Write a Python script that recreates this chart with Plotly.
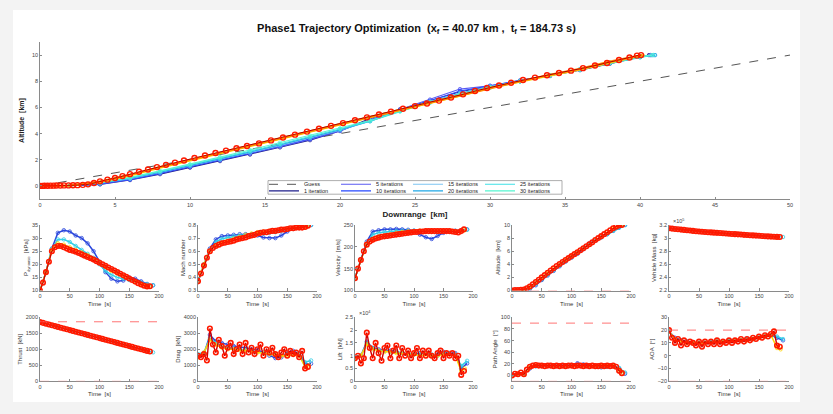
import plotly.graph_objects as go

W, H = 833, 414

# ---------------- Main trajectory data (downrange km, altitude km) ----------------
guess_x = [0, 50]
guess_y = [0, 10]

dr_grid = [0, 2, 4, 6, 8, 10, 12, 14, 16, 18, 20, 22, 24, 26, 28, 30, 32, 34, 36, 38, 40]

iter_labels = ["1 iteration", "5 iterations", "10 iterations", "15 iterations",
               "20 iterations", "25 iterations", "30 iterations"]
iter_colors = ["#1c1c8a", "#5a5af2", "#2547ff", "#7cc4f2", "#1fa7e6", "#3ee0e6", "#55f5cf"]
iter_end_x = [40.6, 40.7, 40.8, 41.0, 41.0, 40.9, 40.8]

alt_it1 = [0, 0.02, 0.12, 0.45, 0.90, 1.40, 1.90, 2.40, 2.95, 3.50, 4.20, 5.15, 5.85, 6.50, 7.20, 7.60, 8.00, 8.40, 8.85, 9.35, 9.85, 10.0]
alt_it5 = [0, 0.02, 0.14, 0.48, 0.95, 1.45, 1.95, 2.45, 3.00, 3.55, 4.20, 5.05, 5.85, 6.60, 7.40, 7.65, 8.05, 8.45, 8.90, 9.40, 9.90, 10.0]
alt_it10 = [0, 0.02, 0.16, 0.50, 0.98, 1.48, 1.98, 2.50, 3.05, 3.60, 4.25, 5.00, 5.80, 6.50, 7.25, 7.65, 8.05, 8.45, 8.90, 9.40, 9.88, 10.0]
alt_it15 = [0, 0.03, 0.20, 0.55, 1.02, 1.52, 2.02, 2.55, 3.10, 3.65, 4.25, 4.95, 5.75, 6.45, 7.10, 7.60, 8.00, 8.45, 8.90, 9.40, 9.85, 10.0]
alt_it20 = [0, 0.03, 0.20, 0.58, 1.05, 1.55, 2.05, 2.60, 3.15, 3.70, 4.30, 4.95, 5.75, 6.40, 7.05, 7.55, 8.00, 8.45, 8.90, 9.40, 9.85, 10.0]
alt_it25 = [0, 0.03, 0.22, 0.60, 1.10, 1.60, 2.10, 2.65, 3.20, 3.75, 4.35, 4.95, 5.70, 6.40, 7.00, 7.55, 8.00, 8.45, 8.90, 9.40, 9.85, 10.0]
alt_it30 = [0, 0.03, 0.24, 0.65, 1.15, 1.65, 2.20, 2.75, 3.30, 3.85, 4.40, 5.00, 5.70, 6.35, 7.00, 7.50, 8.00, 8.45, 8.90, 9.42, 9.88, 10.0]
iter_alts = [alt_it1, alt_it5, alt_it10, alt_it15, alt_it20, alt_it25, alt_it30]

late_colors = ["#ffd400", "#ff8a00"]
late_end_x = [40.3, 40.15]
alt_yellow = [0, 0.03, 0.30, 0.80, 1.40, 1.95, 2.50, 3.00, 3.55, 4.10, 4.65, 5.20, 5.75, 6.30, 6.90, 7.50, 8.00, 8.45, 8.90, 9.45, 9.95, 10.0]
alt_orange = [0, 0.03, 0.33, 0.85, 1.45, 2.00, 2.55, 3.05, 3.60, 4.15, 4.70, 5.25, 5.80, 6.35, 6.95, 7.50, 8.00, 8.50, 8.95, 9.50, 9.97, 10.0]
late_alts = [alt_yellow, alt_orange]

final_x = [0, 0.15, 0.3, 0.5, 0.7, 0.9, 1.1, 1.35, 1.6, 1.9, 2.2, 2.5, 2.85, 3.2, 3.6, 4.0, 4.5, 5.0,
           5.5, 6.0, 6.6, 7.2, 7.8, 8.4, 9.0, 9.6, 10.3, 11.0, 11.7, 12.4, 13.1, 13.8, 14.6, 15.4,
           16.2, 17.0, 17.8, 18.6, 19.4, 20.2, 21.0, 21.8, 22.6, 23.4, 24.2, 25.0, 25.8, 26.6, 27.4,
           28.2, 29.0, 29.8, 30.6, 31.4, 32.2, 33.0, 33.8, 34.6, 35.4, 36.2, 37.0, 37.8, 38.6, 39.3,
           39.8, 40.07]
final_y = [0, 0.0, 0.01, 0.01, 0.02, 0.02, 0.03, 0.03, 0.04, 0.04, 0.05, 0.06, 0.08, 0.12, 0.22, 0.35,
           0.48, 0.60, 0.75, 0.90, 1.08, 1.26, 1.44, 1.61, 1.78, 1.94, 2.13, 2.32, 2.52, 2.70, 2.88,
           3.05, 3.25, 3.48, 3.70, 3.92, 4.15, 4.37, 4.59, 4.80, 5.02, 5.24, 5.46, 5.68, 5.90, 6.10,
           6.30, 6.52, 6.76, 7.00, 7.25, 7.48, 7.68, 7.88, 8.10, 8.28, 8.46, 8.63, 8.81, 9.00, 9.20,
           9.40, 9.62, 9.82, 9.96, 10.0]

# ---------------- Time histories ----------------
t_iter = [0, 10, 20, 30, 40, 50, 60, 70, 80, 90, 100, 110, 120, 130, 140, 150, 160, 170, 180, 190]
t_yel = [0, 10, 20, 30, 40, 50, 60, 70, 80, 90, 100, 110, 120, 130, 140, 150, 160, 170, 180, 186]
t_fin = [0, 5, 10, 15, 20, 25, 30, 35, 40, 45, 50, 55, 60, 65, 70, 75, 80, 85, 90, 95, 100, 105, 110,
         115, 120, 125, 130, 135, 140, 145, 150, 155, 160, 165, 170, 175, 180, 184.73]

q_blue = [10, 17, 26, 32, 33, 32.5, 31, 30, 28, 25, 21, 17, 14.5, 13.5, 13.8, 15, 14.5, 13.5, 12.5, 12]
q_cyan = [10, 17, 26, 29.5, 29.5, 28.5, 27, 25.5, 24, 22.5, 20, 17.5, 16, 15, 14.5, 14, 13.5, 13, 12.3, 12]
q_yel = [10, 17, 25.5, 28, 27.5, 26.5, 25.5, 24.5, 23.5, 22, 20.5, 19, 17.5, 16.5, 15.5, 14.5, 13.5, 12.5, 11.8, 11.6]
q_fin = [10, 13, 17, 21, 25, 26.5, 27, 27, 26.5, 26, 25.5, 25.2, 24.8, 24.3, 23.8, 23.3, 22.8, 22.3, 21.8,
         21.2, 20.6, 20, 19.4, 18.8, 18.2, 17.6, 17, 16.4, 15.8, 15.2, 14.6, 14, 13.4, 12.8, 12.3, 11.8, 11.5, 11.6]

mach_blue = [0.37, 0.5, 0.62, 0.69, 0.715, 0.72, 0.725, 0.73, 0.73, 0.725, 0.72, 0.705, 0.70, 0.70, 0.72, 0.75, 0.77, 0.78, 0.79, 0.80]
mach_cyan = [0.37, 0.5, 0.61, 0.67, 0.695, 0.705, 0.715, 0.72, 0.725, 0.73, 0.735, 0.735, 0.74, 0.745, 0.755, 0.765, 0.775, 0.78, 0.79, 0.80]
mach_yel = [0.37, 0.5, 0.605, 0.645, 0.665, 0.68, 0.695, 0.71, 0.725, 0.735, 0.745, 0.75, 0.755, 0.76, 0.765, 0.77, 0.775, 0.78, 0.785, 0.795]
mach_fin = [0.37, 0.43, 0.49, 0.55, 0.60, 0.625, 0.64, 0.65, 0.66, 0.665, 0.67, 0.675, 0.68, 0.69, 0.695,
            0.70, 0.705, 0.715, 0.72, 0.725, 0.735, 0.74, 0.745, 0.745, 0.75, 0.755, 0.755, 0.76, 0.765,
            0.765, 0.77, 0.775, 0.775, 0.78, 0.78, 0.78, 0.785, 0.795]

vel_blue = [128, 172, 212, 235, 238, 240, 240, 241, 240, 239, 237, 228, 222, 218, 225, 232, 235, 237, 238, 240]
vel_cyan = [128, 171, 208, 228, 232, 234, 235, 236, 237, 237, 237, 236, 236, 235, 234, 235, 236, 236, 237, 239]
vel_yel = [128, 170, 205, 218, 223, 226, 229, 232, 234, 235, 236, 237, 237, 237, 237, 237, 237, 236, 236, 238]
vel_fin = [128, 150, 170, 190, 205, 212, 216, 219, 221, 223, 224, 225, 226, 227, 228, 229, 230, 231, 232,
           233, 234, 234, 235, 235, 236, 236, 236, 236, 236, 236, 236, 236, 236, 235, 234, 233, 236, 240]

alt_blue = [0, 0.05, 0.1, 0.2, 0.8, 1.6, 2.3, 3.0, 3.7, 4.4, 5.0, 5.6, 6.3, 7.2, 7.6, 8.1, 8.6, 9.1, 9.6, 10.0]
alt_cyan = [0, 0.05, 0.1, 0.3, 1.0, 1.7, 2.4, 3.1, 3.8, 4.5, 5.1, 5.8, 6.5, 7.1, 7.6, 8.1, 8.6, 9.1, 9.6, 10.0]
alt_yel = [0, 0.05, 0.12, 0.5, 1.3, 2.0, 2.7, 3.4, 4.1, 4.7, 5.3, 5.9, 6.5, 7.1, 7.7, 8.3, 8.9, 9.4, 9.9, 10.0]
alt_fin = [0, 0.05, 0.08, 0.1, 0.15, 0.35, 0.6, 0.95, 1.3, 1.65, 2.0, 2.35, 2.7, 3.05, 3.4, 3.75, 4.05,
           4.35, 4.65, 4.95, 5.25, 5.55, 5.85, 6.15, 6.45, 6.75, 7.05, 7.35, 7.7, 8.0, 8.3, 8.6, 8.9,
           9.2, 9.5, 9.75, 9.95, 10.0]

mass_blue = [3.15, 3.14, 3.13, 3.12, 3.11, 3.10, 3.093, 3.086, 3.079, 3.072, 3.066, 3.06, 3.054, 3.048, 3.042, 3.037, 3.032, 3.027, 3.022, 3.017]
mass_fin = [3.15, 3.145, 3.14, 3.135, 3.13, 3.125, 3.12, 3.115, 3.11, 3.105, 3.10, 3.097, 3.094, 3.09,
            3.087, 3.083, 3.08, 3.077, 3.073, 3.07, 3.067, 3.063, 3.06, 3.057, 3.054, 3.05, 3.047,
            3.044, 3.041, 3.038, 3.035, 3.032, 3.029, 3.026, 3.023, 3.02, 3.018, 3.016]

thr_blue = [1850, 1800, 1750, 1700, 1650, 1600, 1550, 1500, 1450, 1400, 1350, 1300, 1250, 1200, 1150, 1100, 1050, 1000, 950, 905]
thr_fin = [1850, 1825, 1800, 1775, 1750, 1725, 1700, 1675, 1650, 1625, 1600, 1575, 1550, 1525, 1500, 1475,
           1450, 1425, 1400, 1375, 1350, 1325, 1300, 1275, 1250, 1225, 1200, 1175, 1150, 1125, 1100,
           1075, 1050, 1025, 1000, 975, 950, 930]

drag_blue = [1600, 1700, 2900, 2500, 2400, 2300, 2200, 2150, 2100, 2000, 1950, 1800, 1600, 1450, 1500, 1800, 1900, 1700, 1100, 1100]
drag_cyan = [1700, 1800, 2700, 2400, 2200, 2100, 2050, 2000, 1950, 1900, 1850, 1750, 1700, 1650, 1600, 1700, 1800, 1750, 1200, 1300]
drag_yel = [1500, 1800, 2600, 2300, 2100, 2000, 2000, 1950, 1900, 1850, 1800, 1750, 1700, 1650, 1600, 1600, 1650, 1600, 900, 1000]
drag_fin = [1600, 1500, 1700, 1300, 3300, 2300, 1800, 2600, 2200, 1600, 2100, 2400, 1700, 2000, 2300, 1700,
            2400, 1800, 2100, 1700, 2000, 2300, 1600, 2000, 1800, 2100, 1700, 1500, 1800, 2000, 1600,
            1900, 1700, 1800, 1500, 1900, 800, 900]

lift_blue = [0.9, 1.0, 1.55, 1.3, 1.25, 1.2, 1.2, 1.15, 1.1, 1.05, 1.05, 1.1, 1.1, 1.0, 1.05, 1.15, 1.1, 1.1, 0.5, 0.7]
lift_cyan = [0.9, 1.0, 1.5, 1.3, 1.2, 1.2, 1.15, 1.15, 1.1, 1.1, 1.05, 1.05, 1.1, 1.05, 1.0, 1.1, 1.1, 1.05, 0.6, 0.8]
lift_yel = [0.9, 1.0, 1.45, 1.25, 1.2, 1.15, 1.15, 1.1, 1.1, 1.05, 1.05, 1.0, 1.05, 1.0, 1.0, 1.05, 1.05, 1.0, 0.4, 0.5]
lift_fin = [0.9, 1.0, 0.7, 0.9, 1.9, 1.3, 0.9, 1.5, 1.1, 0.8, 1.3, 1.4, 0.9, 1.2, 1.4, 0.9, 1.3, 1.0, 1.2,
            0.9, 1.1, 1.3, 0.9, 1.2, 1.0, 1.2, 1.0, 0.9, 1.1, 1.2, 0.9, 1.1, 1.0, 1.1, 0.9, 1.0, 0.25, 0.4]

gam_blue = [0, 2, 3, 12, 16, 17, 17, 17, 17, 17, 18, 21, 19, 17, 15, 14, 15, 16, 12, 3]
gam_cyan = [0, 2, 3, 13, 16, 16.5, 17, 17, 17, 17, 17, 18, 17, 16, 15, 15, 15.5, 16, 13, 5]
gam_yel = [0, 2, 3, 14, 17, 17, 17, 17, 17, 17, 17, 17, 17, 16, 16, 16, 16, 16, 10, 5]
gam_fin = [0, 3, 2, 5, 2, 10, 15, 17, 18, 17, 17, 16, 17, 17, 16, 17, 16, 17, 16, 17, 17, 16, 17, 17, 16,
           17, 16, 17, 16, 16, 17, 16, 17, 16, 17, 15, 8, 4]

aoa_blue = [19, 14, 12, 11, 10, 10, 10, 11, 11, 11, 12, 12, 12, 13, 13, 14, 15, 16, 14, 12]
aoa_cyan = [19, 13, 12, 11, 10, 10, 10, 11, 11, 11, 12, 12, 12, 13, 13, 14, 15, 16, 15, 13]
aoa_yel = [19, 13, 11, 10, 10, 10, 10, 10, 11, 11, 11, 12, 12, 12, 13, 14, 15, 16, 6, 5]
aoa_fin = [20, 14, 10, 13, 8, 12, 9, 11, 10, 8, 11, 7, 11, 9, 11, 9, 12, 9, 11, 10, 12, 10, 12, 11, 13,
           11, 13, 12, 14, 13, 15, 14, 16, 15, 17, 19, 8, 7]

thrust_max = 1860
thrust_min = 0
alt_min = 0
gamma_max = 90
gamma_min = -10
aoa_max = 20
aoa_min = -20

# ---------------- Figure ----------------
fig = go.Figure()
FONT = "Liberation Sans"
C_BLUE, C_CYAN, C_YEL, C_RED = "#2a46dc", "#34cfe6", "#ffd400", "#ff1a00"

# main plot
fig.add_trace(go.Scatter(x=guess_x, y=guess_y, mode="lines", name="Guess",
                         line=dict(color="#555555", width=1, dash="dash"),
                         legend="legend", xaxis="x", yaxis="y"))
legend_of = ["legend2", "legend", "legend2", "legend", "legend2", "legend", "legend2"]
for lab, col, ex, ys, lg in zip(iter_labels, iter_colors, iter_end_x, iter_alts, legend_of):
    xs = dr_grid + [ex]
    fig.add_trace(go.Scatter(x=xs, y=ys, mode="lines", name=lab, legend=lg,
                             line=dict(color=col, width=1.1), xaxis="x", yaxis="y"))
    fig.add_trace(go.Scatter(x=xs, y=ys, mode="markers", showlegend=False,
                             marker=dict(symbol="circle-open", size=3.5, color=col, line=dict(width=0.8)),
                             xaxis="x", yaxis="y"))
for col, ex, ys in zip(late_colors, late_end_x, late_alts):
    fig.add_trace(go.Scatter(x=dr_grid + [ex], y=ys, mode="lines", showlegend=False,
                             line=dict(color=col, width=2.2), xaxis="x", yaxis="y"))
fig.add_trace(go.Scatter(x=final_x, y=final_y, mode="lines+markers", showlegend=False,
                         line=dict(color="#b00000", width=1),
                         marker=dict(symbol="circle-open", size=5, color=C_RED, line=dict(width=1.4)),
                         xaxis="x", yaxis="y"))

# subplots
panels = [
    (2, [(t_iter, q_blue, C_BLUE), (t_iter, q_cyan, C_CYAN), (t_yel, q_yel, C_YEL)], q_fin,
     "P<sub>dynamic</sub>  [kPa]", [10, 35], 5),
    (3, [(t_iter, mach_blue, C_BLUE), (t_iter, mach_cyan, C_CYAN), (t_yel, mach_yel, C_YEL)], mach_fin,
     "Mach number", [0.3, 0.8], 0.1),
    (4, [(t_iter, vel_blue, C_BLUE), (t_iter, vel_cyan, C_CYAN), (t_yel, vel_yel, C_YEL)], vel_fin,
     "Velocity  [m/s]", [100, 250], 50),
    (5, [(t_iter, alt_blue, C_BLUE), (t_iter, alt_cyan, C_CYAN), (t_yel, alt_yel, C_YEL)], alt_fin,
     "Altitude  [km]", [0, 10], 2),
    (6, [(t_iter, mass_blue, C_CYAN)], mass_fin, "Vehicle Mass  [kg]", [2.2, 3.2], 0.2),
    (7, [(t_iter, thr_blue, C_CYAN)], thr_fin, "Thrust  [kN]", [0, 2000], 500),
    (8, [(t_iter, drag_blue, C_BLUE), (t_iter, drag_cyan, C_CYAN), (t_yel, drag_yel, C_YEL)], drag_fin,
     "Drag  [kN]", [0, 4000], 1000),
    (9, [(t_iter, lift_blue, C_BLUE), (t_iter, lift_cyan, C_CYAN), (t_yel, lift_yel, C_YEL)], lift_fin,
     "Lift  [kN]", [0, 2.5], 0.5),
    (10, [(t_iter, gam_blue, C_BLUE), (t_iter, gam_cyan, C_CYAN), (t_yel, gam_yel, C_YEL)], gam_fin,
     "Path Angle  [\u00b0]", [-10, 100], 20),
    (11, [(t_iter, aoa_blue, C_BLUE), (t_iter, aoa_cyan, C_CYAN), (t_yel, aoa_yel, C_YEL)], aoa_fin,
     "AOA  [\u00b0]", [-20, 30], 10),
]

col_px = [(40, 159), (198, 317), (355, 473), (512, 631), (669, 789)]
row_px = [(225, 290.5), (317.3, 381.3)]

def axstyle(**kw):
    d = dict(showline=True, linecolor="#8a8a8a", linewidth=0.8, ticks="inside", ticklen=2.5,
             tickcolor="#8a8a8a", tickwidth=0.6, tickfont=dict(size=5.5, color="#444", family=FONT),
             showgrid=False, zeroline=False, mirror=False, automargin=False)
    d.update(kw)
    return d

layout_axes = {}
layout_axes["xaxis"] = axstyle(domain=[40 / W, 790 / W], range=[0, 50], dtick=5, anchor="y",
                               title=dict(text="<b>Downrange  [km]</b>", font=dict(size=8, color="#222"), standoff=4))
layout_axes["yaxis"] = axstyle(domain=[1 - 199 / H, 1 - 42 / H], range=[-1, 11], tickvals=[0, 2, 4, 6, 8, 10],
                               anchor="x",
                               title=dict(text="<b>Altitude  [km]</b>", font=dict(size=7, color="#222"), standoff=6))

shapes = []
for k, (idx, series, fin, ylab, yr, dt) in enumerate(panels):
    r, c = divmod(k, 5)
    xd = [col_px[c][0] / W, col_px[c][1] / W]
    yd = [1 - row_px[r][1] / H, 1 - row_px[r][0] / H]
    xa, ya = "x%d" % idx, "y%d" % idx
    layout_axes["xaxis%d" % idx] = axstyle(domain=xd, range=[0, 200], dtick=50, anchor=ya,
                                           title=dict(text="Time  [s]", font=dict(size=6, color="#333"), standoff=3))
    ytick = dict(dtick=dt, tick0=0) if idx != 10 else dict(tickvals=[0, 20, 40, 60, 80, 100])
    layout_axes["yaxis%d" % idx] = axstyle(domain=yd, range=yr, anchor=xa,
                                           title=dict(text=ylab, font=dict(size=6, color="#333"), standoff=2),
                                           **ytick)
    for (tx, yv, col) in series:
        fig.add_trace(go.Scatter(x=tx, y=yv, mode="lines+markers", showlegend=False,
                                 line=dict(color=col, width=1.5),
                                 marker=dict(symbol="circle-open", size=3.5, color=col, line=dict(width=0.8)),
                                 xaxis=xa, yaxis=ya))
    fig.add_trace(go.Scatter(x=t_fin, y=fin, mode="lines+markers", showlegend=False,
                             line=dict(color="#d00000", width=1.4),
                             marker=dict(symbol="circle-open", size=4.5, color=C_RED, line=dict(width=1.6)),
                             xaxis=xa, yaxis=ya))

# limits (dashed red) as domain-spanning lines
for idx, val, col in [(7, thrust_max, "#ff5050"), (7, thrust_min, "#ff9a9a"), (5, alt_min, "#ff9a9a"),
                      (10, gamma_max, "#ff5050"), (10, gamma_min, "#ff9a9a"),
                      (11, aoa_max, "#ff5050"), (11, aoa_min, "#ff9a9a")]:
    shapes.append(dict(type="line", xref="x%d domain" % idx, yref="y%d" % idx, x0=0, x1=1, y0=val, y1=val,
                       line=dict(color=col, width=0.8, dash="dash"), layer="above"))

# inner white panel and legend box
shapes.insert(0, dict(type="rect", xref="paper", yref="paper", x0=13 / W, x1=800 / W, y0=1 - 402 / H, y1=1 - 10 / H,
                      fillcolor="white", line=dict(width=0), layer="below"))
shapes.append(dict(type="rect", xref="paper", yref="paper", x0=268 / W, x1=562 / W, y0=1 - 194.2 / H,
                   y1=1 - 180.6 / H, fillcolor="rgba(0,0,0,0)", line=dict(color="#777", width=0.6), layer="above"))

leg_common = dict(orientation="h", xanchor="left", yanchor="middle", font=dict(size=5.5, color="#222", family=FONT),
                  bgcolor="rgba(0,0,0,0)", entrywidth=27, entrywidthmode="pixels", itemwidth=30,
                  borderwidth=0, tracegroupgap=0)

fig.update_layout(
    width=W, height=H, autosize=False,
    margin=dict(l=0, r=0, t=0, b=0),
    paper_bgcolor="#f3f3f3", plot_bgcolor="rgba(0,0,0,0)",
    font=dict(family=FONT, color="#222"),
    title=dict(text="<b>Phase1 Trajectory Optimization  (x<sub>f</sub> = 40.07 km ,  t<sub>f</sub> = 184.73 s)</b>",
               x=0.5, xanchor="center", y=1 - 28 / H, yanchor="middle", font=dict(size=11, color="#111")),
    legend=dict(x=264 / W, y=1 - 184.3 / H, **leg_common),
    legend2=dict(x=264 / W, y=1 - 190.9 / H, **leg_common),
    shapes=shapes,
    annotations=[
        dict(text="\u00d710<sup>5</sup>", xref="paper", yref="paper", x=671 / W, y=1 - 221 / H, showarrow=False,
             xanchor="left", yanchor="middle", font=dict(size=5.5, color="#444")),
        dict(text="\u00d710<sup>4</sup>", xref="paper", yref="paper", x=357 / W, y=1 - 313 / H, showarrow=False,
             xanchor="left", yanchor="middle", font=dict(size=5.5, color="#444")),
    ],
    **layout_axes,
)

fig.write_html("out.html", config={"displayModeBar": False},
               post_script="document.body.style.margin='0';")
